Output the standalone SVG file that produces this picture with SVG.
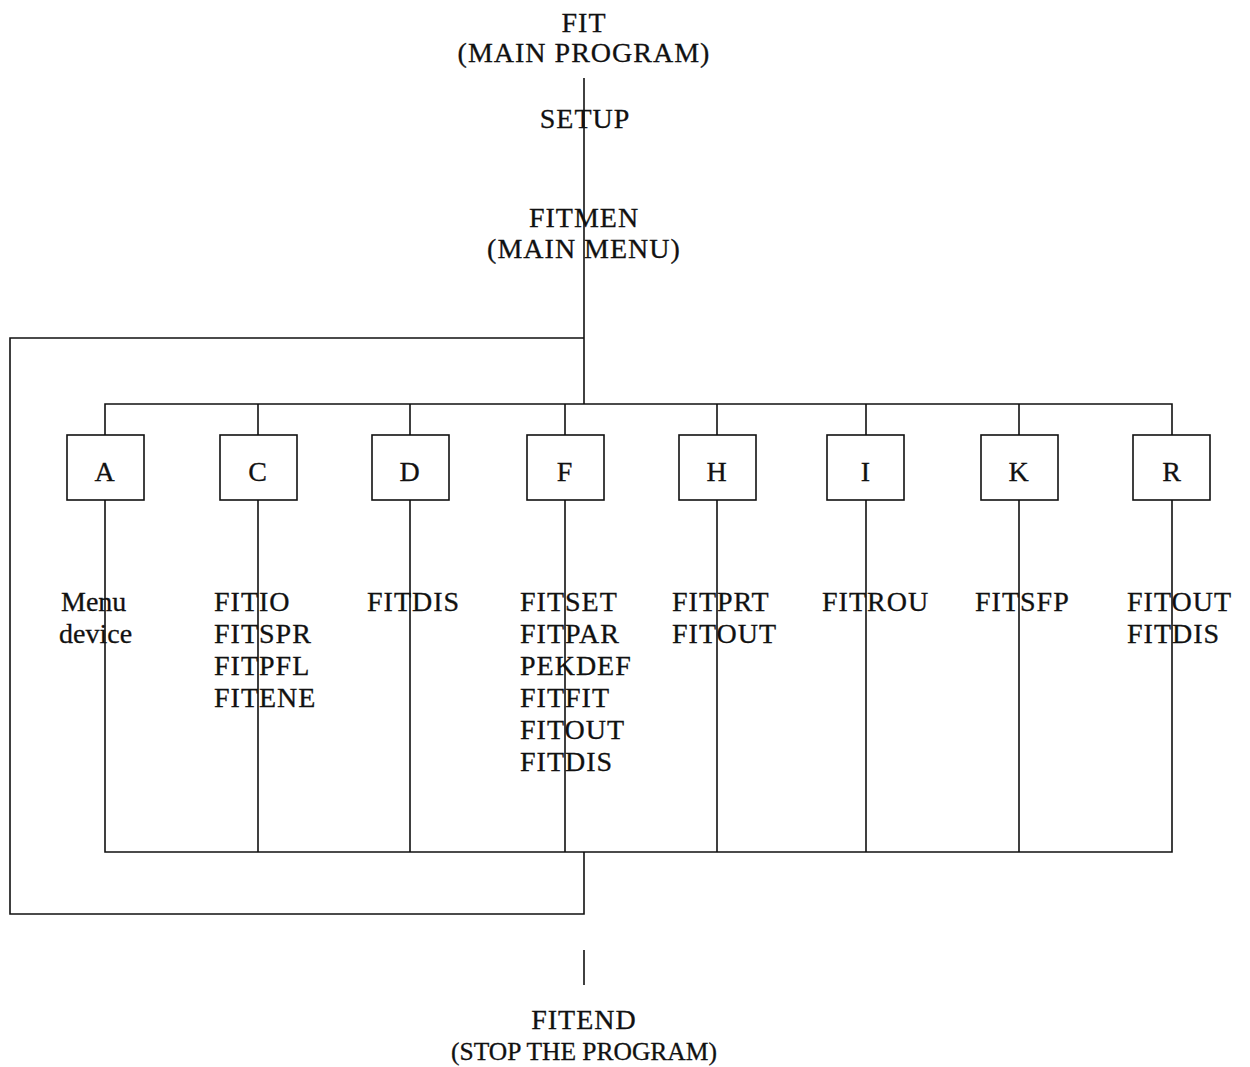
<svg xmlns="http://www.w3.org/2000/svg" width="1250" height="1067" viewBox="0 0 1250 1067">
<style>
text{font-family:"Liberation Serif","Times New Roman",serif;font-size:28px;fill:#111;stroke:#111;stroke-width:0.3;letter-spacing:1px}
.c{text-anchor:middle}
.ln{stroke:#111;stroke-width:1.6;fill:none}
.box{stroke:#111;stroke-width:1.6;fill:#fff}
</style>
<rect width="1250" height="1067" fill="#fff"/>
<g id="connectors">
<path class="ln" d="M584 78V404"/>
<path class="ln" d="M584 338H10V914H584V852"/>
<path class="ln" d="M105 435V404H1172V435"/>
<path class="ln" d="M258 404V435M410 404V435M565 404V435M717 404V435M866 404V435M1019 404V435"/>
<path class="ln" d="M105 500V852H1172V500"/>
<path class="ln" d="M258 500V852M410 500V852M565 500V852M717 500V852M866 500V852M1019 500V852"/>
<path class="ln" d="M584 950V985"/>
</g>
<g id="fit"><text class="c" x="584" y="32">FIT</text><text class="c" x="584" y="62">(MAIN PROGRAM)</text></g>
<g id="setup"><text class="c" x="585" y="128">SETUP</text></g>
<g id="fitmen"><text class="c" x="584" y="227">FITMEN</text><text class="c" x="584" y="258">(MAIN MENU)</text></g>
<g id="nodeA"><rect class="box" x="67" y="435" width="77" height="65"/><text class="c" x="105" y="481">A</text></g>
<g id="nodeC"><rect class="box" x="220" y="435" width="77" height="65"/><text class="c" x="258" y="481">C</text></g>
<g id="nodeD"><rect class="box" x="372" y="435" width="77" height="65"/><text class="c" x="410" y="481">D</text></g>
<g id="nodeF"><rect class="box" x="527" y="435" width="77" height="65"/><text class="c" x="565" y="481">F</text></g>
<g id="nodeH"><rect class="box" x="679" y="435" width="77" height="65"/><text class="c" x="717" y="481">H</text></g>
<g id="nodeI"><rect class="box" x="827" y="435" width="77" height="65"/><text class="c" x="866" y="481">I</text></g>
<g id="nodeK"><rect class="box" x="981" y="435" width="77" height="65"/><text class="c" x="1019" y="481">K</text></g>
<g id="nodeR"><rect class="box" x="1133" y="435" width="77" height="65"/><text class="c" x="1172" y="481">R</text></g>
<g id="listA"><text x="61" y="611" style="letter-spacing:0">Menu</text><text x="59" y="643" style="letter-spacing:0">device</text></g>
<g id="listC"><text x="214" y="611">FITIO</text><text x="214" y="643">FITSPR</text><text x="214" y="675">FITPFL</text><text x="214" y="707">FITENE</text></g>
<g id="listD"><text x="367" y="611">FITDIS</text></g>
<g id="listF"><text x="520" y="611">FITSET</text><text x="520" y="643">FITPAR</text><text x="520" y="675">PEKDEF</text><text x="520" y="707">FITFIT</text><text x="520" y="739">FITOUT</text><text x="520" y="771">FITDIS</text></g>
<g id="listH"><text x="672" y="611">FITPRT</text><text x="672" y="643">FITOUT</text></g>
<g id="listI"><text x="822" y="611">FITROU</text></g>
<g id="listK"><text x="975" y="611">FITSFP</text></g>
<g id="listR"><text x="1127" y="611">FITOUT</text><text x="1127" y="643">FITDIS</text></g>
<g id="fitend"><text class="c" x="584" y="1029">FITEND</text><text class="c" x="584" y="1060" style="font-size:25.5px;letter-spacing:0">(STOP THE PROGRAM)</text></g>
</svg>
